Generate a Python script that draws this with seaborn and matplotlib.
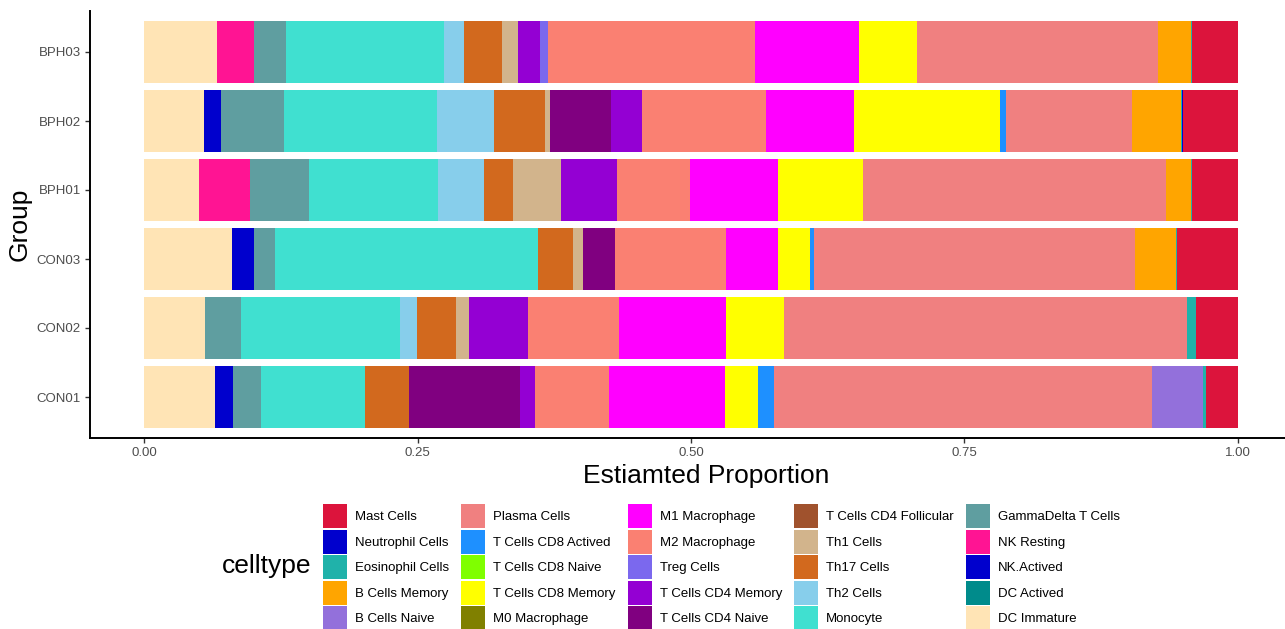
import matplotlib
matplotlib.use("Agg")
import matplotlib.pyplot as plt
from matplotlib.patches import Patch
import pandas as pd
import seaborn as sns

# groups top to bottom
groups = ['BPH03', 'BPH02', 'BPH01', 'CON03', 'CON02', 'CON01']

# cell types in legend order (stacking runs the other way)
celltypes = ['Mast Cells', 'Neutrophil Cells', 'Eosinophil Cells', 'B Cells Memory', 'B Cells Naive',
             'Plasma Cells', 'T Cells CD8 Actived', 'T Cells CD8 Naive', 'T Cells CD8 Memory', 'M0 Macrophage',
             'M1 Macrophage', 'M2 Macrophage', 'Treg Cells', 'T Cells CD4 Memory', 'T Cells CD4 Naive',
             'T Cells CD4 Follicular', 'Th1 Cells', 'Th17 Cells', 'Th2 Cells', 'Monocyte',
             'GammaDelta T Cells', 'NK Resting', 'NK.Actived', 'DC Actived', 'DC Immature']

colors = ['#DC143C', '#0000CD', '#20B2AA', '#FFA500', '#9370DB',
          '#F08080', '#1E90FF', '#7FFF00', '#FFFF00', '#808000',
          '#FF00FF', '#FA8072', '#7B68EE', '#9400D3', '#800080',
          '#A0522D', '#D2B48C', '#D2691E', '#87CEEB', '#40E0D0',
          '#5F9EA0', '#FF1493', '#0000CD', '#008B8B', '#FFE4B5']

# estimated proportions, same order as celltypes
bph03 = [0.0420, 0.0000, 0.0010, 0.0302, 0.0000, 0.2203, 0.0000, 0.0000, 0.0530, 0.0000,
         0.0951, 0.1892, 0.0073, 0.0201, 0.0000, 0.0000, 0.0146, 0.0347, 0.0183, 0.1444,
         0.0293, 0.0335, 0.0000, 0.0000, 0.0667]
bph02 = [0.0503, 0.0012, 0.0005, 0.0451, 0.0000, 0.1152, 0.0055, 0.0000, 0.1335, 0.0000,
         0.0804, 0.1133, 0.0000, 0.0283, 0.0558, 0.0000, 0.0046, 0.0466, 0.0521, 0.1399,
         0.0576, 0.0000, 0.0155, 0.0000, 0.0548]
bph01 = [0.0420, 0.0005, 0.0008, 0.0229, 0.0000, 0.2770, 0.0000, 0.0000, 0.0777, 0.0000,
         0.0804, 0.0667, 0.0000, 0.0512, 0.0000, 0.0000, 0.0439, 0.0265, 0.0420, 0.1179,
         0.0539, 0.0466, 0.0000, 0.0000, 0.0503]
con03 = [0.0558, 0.0000, 0.0012, 0.0378, 0.0000, 0.2931, 0.0037, 0.0000, 0.0293, 0.0000,
         0.0475, 0.1015, 0.0000, 0.0000, 0.0293, 0.0000, 0.0091, 0.0320, 0.0000, 0.2404,
         0.0192, 0.0000, 0.0201, 0.0000, 0.0804]
con02 = [0.0384, 0.0000, 0.0082, 0.0000, 0.0000, 0.3684, 0.0000, 0.0000, 0.0530, 0.0000,
         0.0978, 0.0832, 0.0000, 0.0539, 0.0000, 0.0000, 0.0119, 0.0356, 0.0155, 0.1453,
         0.0329, 0.0000, 0.0000, 0.0000, 0.0558]
con01 = [0.0293, 0.0000, 0.0027, 0.0000, 0.0466, 0.3455, 0.0146, 0.0000, 0.0302, 0.0000,
         0.1060, 0.0676, 0.0000, 0.0137, 0.1015, 0.0000, 0.0000, 0.0402, 0.0000, 0.0951,
         0.0256, 0.0000, 0.0165, 0.0000, 0.0649]

df = pd.DataFrame({'BPH03': bph03, 'BPH02': bph02, 'BPH01': bph01,
                   'CON03': con03, 'CON02': con02, 'CON01': con01}, index=celltypes)
color_map = dict(zip(celltypes, colors))

# cumulative sums along the stacking order (DC Immature sits at 0)
cum = df.loc[celltypes[::-1]].cumsum()

sns.set_theme(style="ticks")
plt.rcParams['font.family'] = ['Liberation Sans', 'DejaVu Sans']

fig = plt.figure(figsize=(12.85, 6.29), dpi=100)
ax = fig.add_axes([90 / 1285, (629 - 438.4) / 629, 1195 / 1285, 427.8 / 629])

# overlay bars from the longest cumulative down to the shortest
for ct in celltypes:
    sns.barplot(x=cum.loc[ct].values, y=groups, order=groups, color=color_map[ct],
                saturation=1, width=0.9, linewidth=0, errorbar=None, ax=ax)

ax.set_xlim(-0.0494, 1.043)
ax.set_ylim(5.6, -0.6)
ax.set_xticks([0, 0.25, 0.5, 0.75, 1.0])
ax.set_xticklabels(['0.00', '0.25', '0.50', '0.75', '1.00'])

for side in ['top', 'right']:
    ax.spines[side].set_visible(False)
for side in ['left', 'bottom']:
    ax.spines[side].set_linewidth(1.4)
    ax.spines[side].set_color('black')
ax.tick_params(axis='both', length=3.5, width=1.0, color='#333333', labelsize=9.5,
               labelcolor='#4D4D4D', pad=3)

ax.set_xlabel('Estiamted Proportion', fontsize=19, color='black')
ax.xaxis.label.set_va('center')
ax.xaxis.set_label_coords((706 - 90) / 1195, -37.6 / 427.8)
ax.set_ylabel('Group', fontsize=19, color='black')
ax.yaxis.label.set_va('center')
ax.yaxis.set_label_coords(-70 / 1195, 0.5)

handles = [Patch(facecolor=c, edgecolor='none') for c in colors]
fig.legend(handles, celltypes, ncol=5, loc='upper left', bbox_to_anchor=(323 / 1285, 1 - 504 / 629),
           frameon=False, fontsize=9.5, handlelength=1.8, handleheight=2.42, handletextpad=0.6,
           labelspacing=0.12, columnspacing=0.95, borderpad=0, borderaxespad=0, labelcolor='black')
fig.text(222 / 1285, 1 - 566 / 629, 'celltype', fontsize=19, va='center', ha='left', color='black')

fig.savefig('out.png', dpi=100)
